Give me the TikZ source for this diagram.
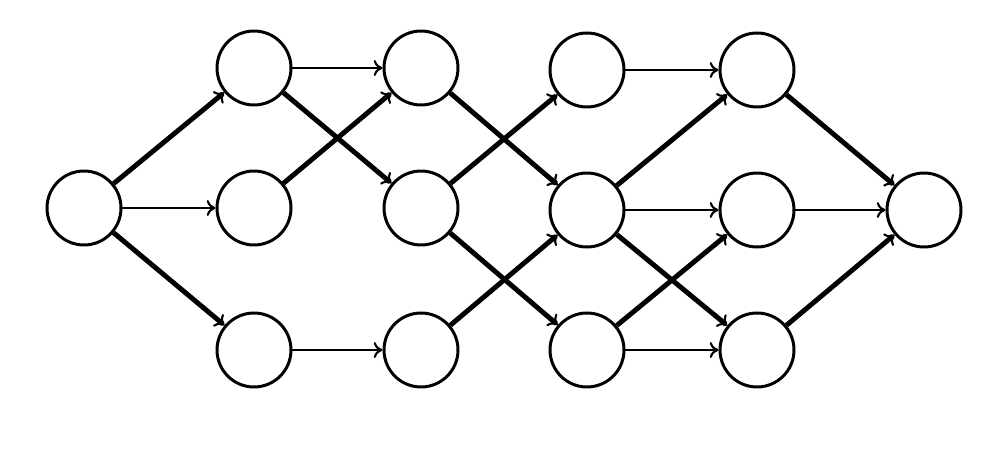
\documentclass[tikz,border=0pt]{standalone}
\usetikzlibrary{arrows.meta}
\begin{document}
\begin{tikzpicture}[x=0.02cm,y=-0.02cm]
  \tikzset{unit/.style={shape=circle,draw,line width=1.7pt,minimum size=1.48cm,inner sep=0pt},
    thin arc/.style={line width=1.7pt,arrows={-{To[length=5pt,width=9pt,line width=1.2pt]}}},
    thick arc/.style={line width=2.8pt,arrows={-{To[length=5pt,width=9pt,line width=1.2pt]}}}};
  \useasboundingbox (0,0) rectangle (1000,462);
  \node[unit] (I) at (84,208){};
  \node[unit] (Aa) at (254,68){};
  \node[unit] (Ab) at (254,208){};
  \node[unit] (Ac) at (254,350){};
  \node[unit] (Ba) at (421,68){};
  \node[unit] (Bb) at (421,208){};
  \node[unit] (Bc) at (421,350){};
  \node[unit] (Ca) at (587,70){};
  \node[unit] (Cb) at (587,210){};
  \node[unit] (Cc) at (587,350){};
  \node[unit] (Da) at (757,70){};
  \node[unit] (Db) at (757,210){};
  \node[unit] (Dc) at (757,350){};
  \node[unit] (O) at (924,210){};
  \draw[thin arc] (I) -- (Ab);
  \draw[thick arc] (I) -- (Aa);
  \draw[thick arc] (I) -- (Ac);
  \draw[thin arc] (Aa) -- (Ba);
  \draw[thick arc] (Aa) -- (Bb);
  \draw[thick arc] (Ab) -- (Ba);
  \draw[thin arc] (Ac) -- (Bc);
  \draw[thick arc] (Ba) -- (Cb);
  \draw[thick arc] (Bb) -- (Ca);
  \draw[thick arc] (Bb) -- (Cc);
  \draw[thick arc] (Bc) -- (Cb);
  \draw[thin arc] (Ca) -- (Da);
  \draw[thick arc] (Cb) -- (Da);
  \draw[thin arc] (Cb) -- (Db);
  \draw[thick arc] (Cb) -- (Dc);
  \draw[thick arc] (Cc) -- (Db);
  \draw[thin arc] (Cc) -- (Dc);
  \draw[thick arc] (Da) -- (O);
  \draw[thin arc] (Db) -- (O);
  \draw[thick arc] (Dc) -- (O);
\end{tikzpicture}
\end{document}
